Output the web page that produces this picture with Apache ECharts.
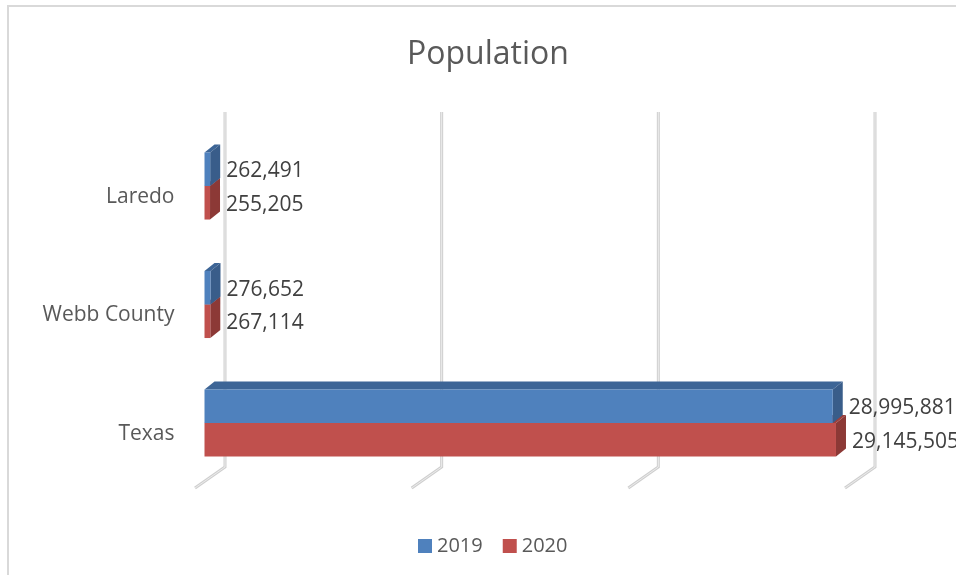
<!DOCTYPE html>
<html>
<head>
<meta charset="utf-8">
<title>Population</title>
<script src="https://cdn.jsdelivr.net/npm/echarts@6/dist/echarts.min.js"></script>
<style>
  html, body { margin: 0; padding: 0; background: #ffffff; }
  #chart { width: 956px; height: 575px; }
</style>
</head>
<body>
<div id="chart"></div>
<script>
// Population by area, 2019 vs 2020
const categories = ['Texas', 'Webb County', 'Laredo'];
const pop2019 = [28995881, 276652, 262491];
const pop2020 = [29145505, 267114, 255205];
const gridTicks = [0, 10000000, 20000000, 30000000];

// oblique projection used for the pseudo-3D look
const DEPTH_X = 10;      // bar depth, horizontal shift
const DEPTH_Y = 8;       // bar depth, vertical shift
const FLOOR_X = -30;     // wall-to-front floor line shift
const FLOOR_Y = 21;
const BAR_RATIO = 0.283; // bar thickness as a share of the category band

const FONT = 'Open Sans';

function fmt(v) {
  return v.toLocaleString('en-US');
}

// Draws one 3D bar: front face, top face and right side face, plus its value label
function barRenderer(upper, colors) {
  return function (params, api) {
    const v = api.value(0);
    const cat = api.value(1);
    const start = api.coord([0, cat]);
    const end = api.coord([v, cat]);
    const h = api.size([0, 1])[1] * BAR_RATIO;
    const x0 = start[0];
    const x1 = end[0];
    const y0 = upper ? end[1] - h : end[1];
    const y1 = y0 + h;
    const children = [
      {
        type: 'polygon',
        shape: { points: [[x0, y0], [x1, y0], [x1 + DEPTH_X, y0 - DEPTH_Y], [x0 + DEPTH_X, y0 - DEPTH_Y]] },
        style: { fill: colors.top }
      },
      {
        type: 'polygon',
        shape: { points: [[x1, y0], [x1 + DEPTH_X, y0 - DEPTH_Y], [x1 + DEPTH_X, y1 - DEPTH_Y], [x1, y1]] },
        style: { fill: colors.side }
      },
      {
        type: 'rect',
        shape: { x: x0, y: y0, width: x1 - x0, height: h },
        style: { fill: colors.front }
      },
      {
        type: 'text',
        style: {
          text: fmt(v),
          x: x1 + DEPTH_X + 6,
          y: (y0 + y1) / 2 + 2,
          align: 'left',
          verticalAlign: 'middle',
          fontFamily: FONT,
          fontSize: 21,
          fill: '#404040'
        }
      }
    ];
    return { type: 'group', children: children };
  };
}

// Back-wall gridline with its slanted floor segment
function gridRenderer(params, api) {
  const v = api.value(0);
  const top = api.coord([v, 1]);
  const bot = api.coord([v, 0]);
  const pts = [top, bot, [bot[0] + FLOOR_X, bot[1] + FLOOR_Y]];
  return {
    type: 'group',
    children: [
      { type: 'polyline', shape: { points: pts }, style: { stroke: '#cfcfcf', lineWidth: 3, fill: null } },
      { type: 'polyline', shape: { points: pts }, style: { stroke: '#ececec', lineWidth: 1, fill: null } }
    ]
  };
}

const chart = echarts.init(document.getElementById('chart'), null, { renderer: 'canvas' });

chart.setOption({
  backgroundColor: '#ffffff',
  animation: false,
  title: {
    text: 'Population',
    left: 402,
    top: 34,
    textStyle: { fontFamily: FONT, fontSize: 32, fontWeight: 'normal', color: '#595959' }
  },
  legend: {
    data: ['2019', '2020'],
    left: 413,
    top: 531,
    icon: 'rect',
    itemWidth: 14,
    itemHeight: 14,
    itemGap: 20,
    textStyle: { fontFamily: FONT, fontSize: 20, color: '#595959' }
  },
  graphic: [
    {
      type: 'rect',
      shape: { x: 8, y: 6, width: 1000, height: 1000 },
      style: { fill: null, stroke: '#d9d9d9', lineWidth: 2 },
      silent: true,
      z: -10
    }
  ],
  grid: [
    { left: 204.5, right: 101.5, top: 126.75, bottom: 92.75 },  // front plane of the bars
    { left: 225, right: 81, top: 112, bottom: 108 }              // back wall
  ],
  xAxis: [
    { gridIndex: 0, type: 'value', min: 0, max: 30000000, interval: 10000000, show: false },
    { gridIndex: 1, type: 'value', min: 0, max: 30000000, interval: 10000000, show: false }
  ],
  yAxis: [
    {
      gridIndex: 0,
      type: 'category',
      data: categories,
      axisLine: { show: false },
      axisTick: { show: false },
      splitLine: { show: false },
      axisLabel: {
        margin: 30,
        fontFamily: FONT,
        fontSize: 21,
        color: '#595959',
        verticalAlign: 'top',
        lineHeight: 22
      }
    },
    { gridIndex: 1, type: 'value', min: 0, max: 1, show: false }
  ],
  series: [
    {
      name: 'gridlines',
      type: 'custom',
      xAxisIndex: 1,
      yAxisIndex: 1,
      silent: true,
      z: 1,
      data: gridTicks.map(function (t) { return [t, 0]; }),
      renderItem: gridRenderer
    },
    {
      name: '2020',
      type: 'custom',
      xAxisIndex: 0,
      yAxisIndex: 0,
      z: 3,
      itemStyle: { color: '#C0504D' },
      encode: { x: 0, y: 1 },
      data: pop2020.map(function (v, i) { return [v, categories[i]]; }),
      renderItem: barRenderer(false, { front: '#C0504D', top: '#9d3f3c', side: '#8c3936' })
    },
    {
      name: '2019',
      type: 'custom',
      xAxisIndex: 0,
      yAxisIndex: 0,
      z: 4,
      itemStyle: { color: '#4F81BD' },
      encode: { x: 0, y: 1 },
      data: pop2019.map(function (v, i) { return [v, categories[i]]; }),
      renderItem: barRenderer(true, { front: '#4F81BD', top: '#3d6596', side: '#395d8a' })
    }
  ]
});
</script>
</body>
</html>
